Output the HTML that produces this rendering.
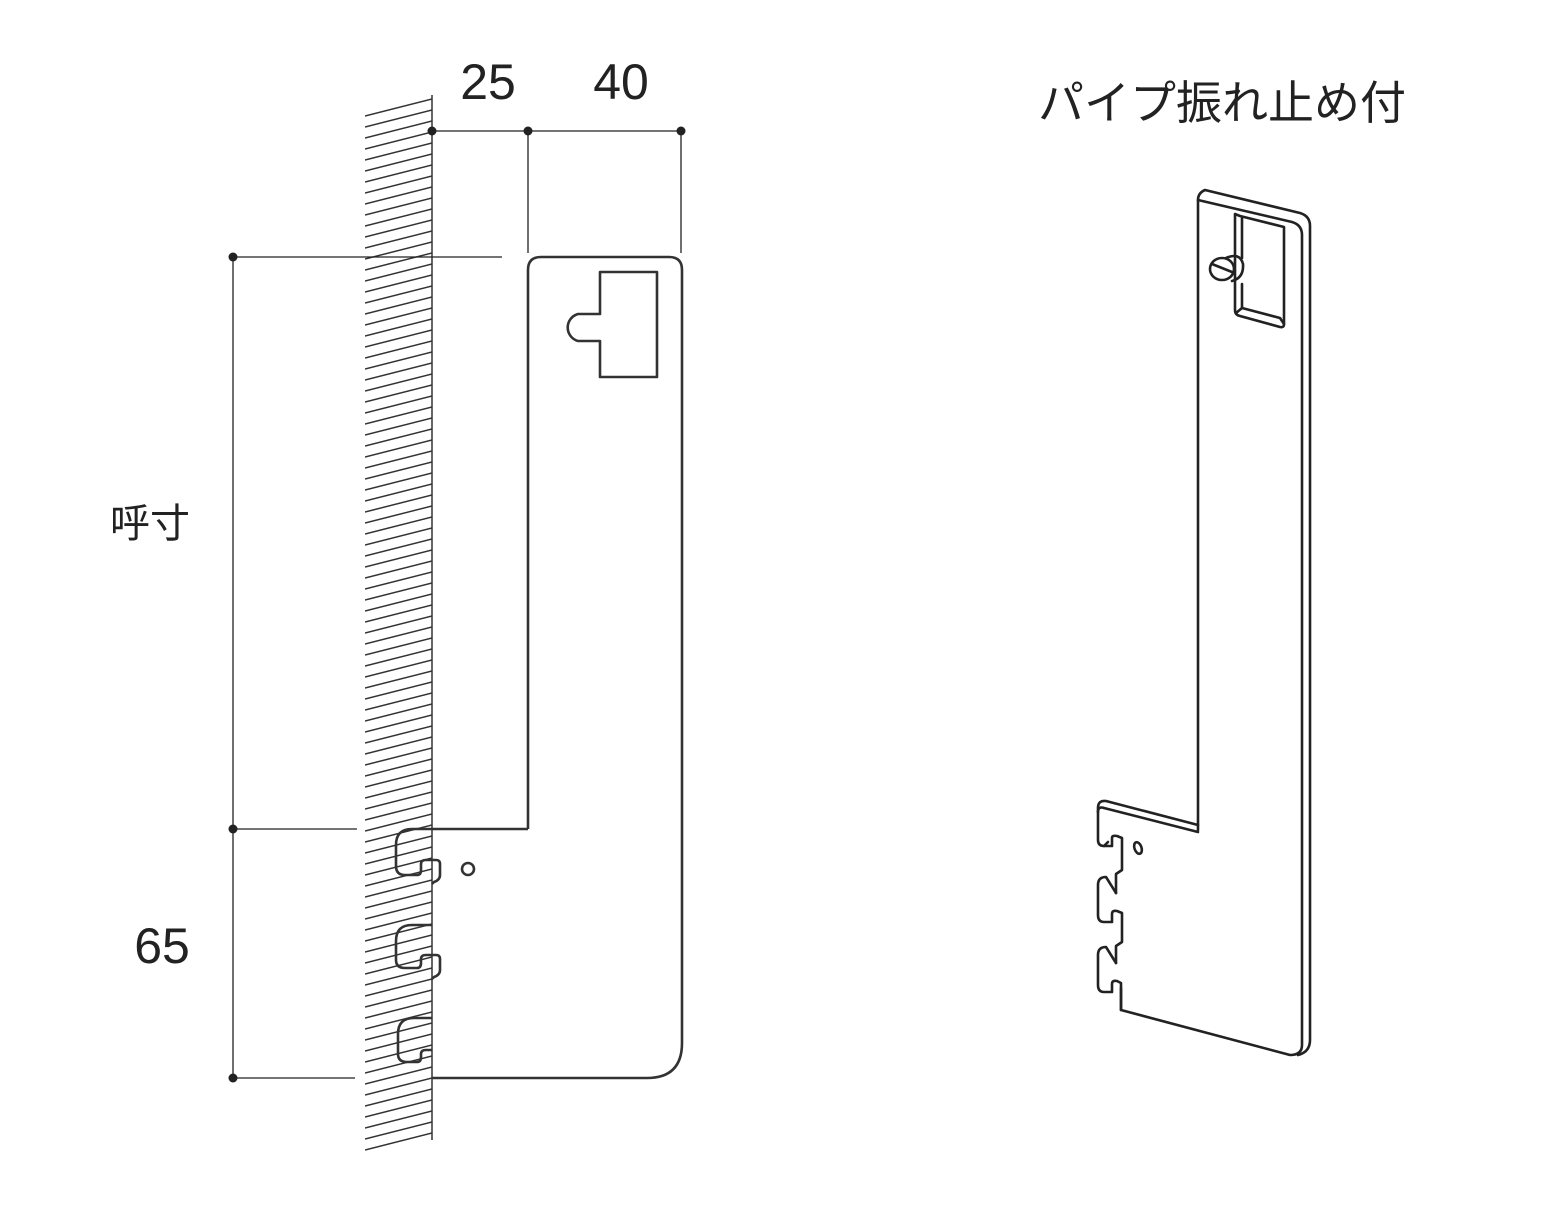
<!DOCTYPE html>
<html><head><meta charset="utf-8"><style>
html,body{margin:0;padding:0;background:#fff;}
svg{display:block;}
text{font-family:"Liberation Sans","Noto Sans CJK JP",sans-serif;fill:#222;}
</style></head><body>
<svg width="1555" height="1231" viewBox="0 0 1555 1231" xmlns="http://www.w3.org/2000/svg">
<defs>
<pattern id="hp" patternUnits="userSpaceOnUse" x="365" y="0" width="67" height="11">
<g stroke="#333" stroke-width="1.5">
<line x1="0" y1="17" x2="67" y2="0"/>
<line x1="0" y1="6" x2="67" y2="-11"/>
<line x1="0" y1="28" x2="67" y2="11"/>
</g>
</pattern>
</defs>
<polygon points="365,110 432,95 432,1135 365,1153" fill="url(#hp)"/>
<line x1="432" y1="95" x2="432" y2="1140" stroke="#333" stroke-width="1.5"/>
<g stroke="#222" stroke-width="1.3" fill="none">
<line x1="432" y1="131" x2="681" y2="131"/>
<line x1="528" y1="131" x2="528" y2="253"/>
<line x1="681" y1="131" x2="681" y2="253"/>
<line x1="233" y1="257" x2="233" y2="1078"/>
<line x1="233" y1="257" x2="502" y2="257"/>
<line x1="233" y1="829" x2="357" y2="829"/>
<line x1="233" y1="1078" x2="355" y2="1078"/>
</g>
<g fill="#222">
<circle cx="432" cy="131" r="4.5"/><circle cx="528" cy="131" r="4.5"/><circle cx="681" cy="131" r="4.5"/>
<circle cx="233" cy="257" r="4.5"/><circle cx="233" cy="829" r="4.5"/><circle cx="233" cy="1078" r="4.5"/>
</g>
<text x="488" y="99" font-size="50" text-anchor="middle">25</text>
<text x="621" y="99" font-size="50" text-anchor="middle">40</text>
<text x="150" y="537" font-size="40" text-anchor="middle">呼寸</text>
<text x="162" y="963" font-size="50" text-anchor="middle">65</text>
<g stroke="#333" stroke-width="2.6" fill="none" stroke-linejoin="round">
<path d="M528,829 L528,270 Q528,257 541,257 L669,257 Q682,257 682,270 L682,1043 Q682,1078 647,1078 L432,1078"/>
<path d="M528,829 L412,829 Q396,829 396,845 L396,866 Q396,875 405,875 L417,875 Q421,875 421,870 L421,864 Q421,860 426,860 L436,860 Q440,860 440,864 L440,875 Q440,880 434,882 L432,884"/>
<path d="M432,925 L412,925 Q396,925 396,941 L396,960 Q396,968 405,968 L417,968 Q421,968 421,963 L421,959 Q421,955 426,955 L436,955 Q440,955 440,959 L440,970 Q440,975 434,977 L432,979"/>
<path d="M432,1018 L414,1018 Q398,1018 398,1034 L398,1054 Q398,1062 407,1062 L417,1062 Q421,1062 421,1057 L421,1054 Q421,1050 426,1050 L432,1050"/>
<path d="M600,272 L657,272 L657,377 L600,377 L600,341 L578,341 A14,14 0 0 1 578,314 L600,314 Z"/>
<circle cx="468" cy="869" r="6"/>
</g>
<text x="1222" y="119" font-size="46" text-anchor="middle">パイプ振れ止め付</text>
<g stroke="#222" stroke-width="2.6" fill="none" stroke-linejoin="round" stroke-linecap="round">
<path d="M1198,830 L1198,200 Q1198,193 1205,190 L1300,213 Q1310,216 1310,226 L1310,1040 Q1310,1052 1298,1055"/>
<path d="M1198,200 L1292,222 Q1302,225 1302,235 L1302,1045 Q1302,1055 1290,1055 L1121,1010 L1121,988"/>
<path d="M1198,832 L1104,808 Q1098,806 1098,812"/>
<path d="M1198,825 L1106,801 Q1098,800 1098,808 L1098,840 Q1098,846 1104,846 L1112,846 L1112,838 Q1112,835 1117,836 L1122,838 L1122,870 L1116,874 L1116,893"/>
<path d="M1104,846 L1108,842"/>
<path d="M1098,885 Q1098,877 1106,877 L1116,893 M1098,885 L1098,915 Q1098,922 1104,922 L1112,922 L1112,914 Q1112,910 1117,911 L1122,913 L1122,942 L1116,946 L1116,963"/>
<path d="M1098,955 Q1098,947 1106,947 L1116,963 M1098,955 L1098,985 Q1098,992 1104,992 L1112,992 L1112,984 Q1112,980 1117,981 L1121,983 L1121,1010"/>
<ellipse cx="1138" cy="848" rx="3.5" ry="6" transform="rotate(-20 1138 848)"/>
<path d="M1235,290 L1235,214 L1240,216 L1284,227 L1284,324 Q1284,328 1280,327 L1240,316 Q1235,315 1235,310 Z"/>
<path d="M1242,218 L1242,258 M1242,284 L1242,308 L1280,318 L1284,324"/>
<path d="M1242,308 L1236,313"/>
<ellipse cx="1222" cy="269" rx="12" ry="11"/>
<path d="M1212,264 L1232,272"/>
<path d="M1226,258 Q1240,252 1243,264 Q1244,278 1232,281"/>
</g>
</svg>
</body></html>
